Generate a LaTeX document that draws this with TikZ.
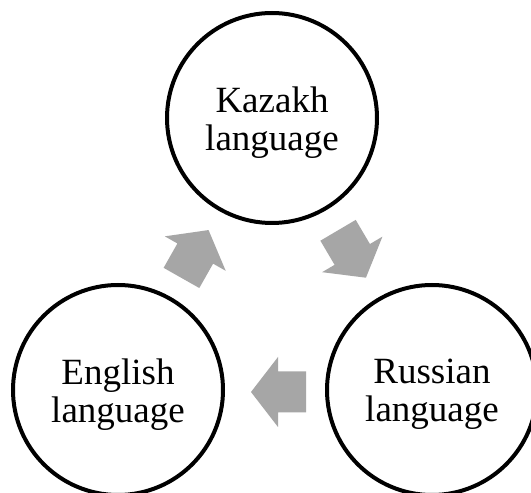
\documentclass[tikz,border=0pt]{standalone}
\usepackage{fontspec}
\setmainfont{Liberation Serif}
\definecolor{arrowgray}{HTML}{A6A6A6}
\tikzset{
  circ/.style={circle, draw=black, line width=4pt, minimum size=210pt, inner sep=0pt, fill=white},
  lbl/.style={align=center, inner sep=0pt, font=\fontsize{37}{38}\selectfont},
  cyclearrow/.pic={
    \fill[arrowgray] (-27.5,-20.5) -- (0.5,-20.5) -- (0.5,-35) -- (27.5,0)
      -- (0.5,35) -- (0.5,20.5) -- (-27.5,20.5) -- cycle;
  }
}
\begin{document}
\begin{tikzpicture}[x=1pt,y=1pt]
\useasboundingbox (0,0) rectangle (531,493);
\clip (0,0) rectangle (531,493);
\fill[white] (0,0) rectangle (531,493);
\node[circ] (kaz) at (272,375) {};
\node[circ] (eng) at (118,103) {};
\node[circ] (rus) at (432,103) {};
\node[lbl] (kazt) at ([yshift=-4.5pt]kaz.center) {Kazakh\\language};
\node[lbl] (engt) at ([yshift=-4.5pt]eng.center) {English\\language};
\node[lbl] (rust) at ([yshift=-4.5pt]rus.center) {Russian\\language};
\pic[rotate=60.5] at (195,239) {cyclearrow};
\pic[rotate=-59.5] at (352,239) {cyclearrow};
\pic[rotate=180] at (278.5,101) {cyclearrow};
\end{tikzpicture}
\end{document}
